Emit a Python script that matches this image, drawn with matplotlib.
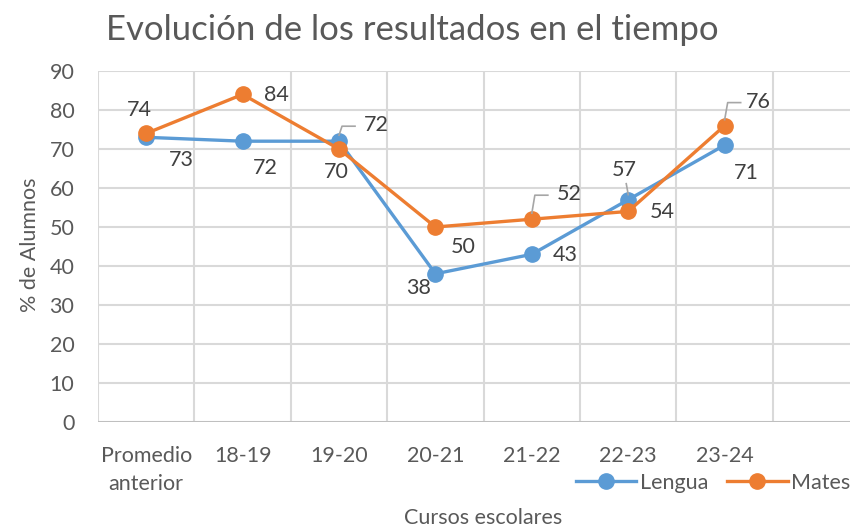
import matplotlib
matplotlib.use("Agg")
import matplotlib.pyplot as plt
from matplotlib.lines import Line2D
from matplotlib.transforms import Affine2D

plt.rcParams['font.family'] = ['Lato', 'DejaVu Sans']

categories = ["Promedio\nanterior", "18-19", "19-20", "20-21", "21-22", "22-23", "23-24"]
lengua = [73, 72, 72, 38, 43, 57, 71]
mates = [74, 84, 70, 50, 52, 54, 76]

title = "Evolución de los resultados en el tiempo"
xlabel = "Cursos escolares"
ylabel = "% de Alumnos"

c_len = "#5B9BD5"
c_mat = "#ED7D31"
grid_c = "#D9D9D9"
tick_c = "#595959"
lab_c = "#404040"

FS = 15.5

# label offsets in pixels (dx, dy with y down), and leader flag
len_off = [(35, 23, False), (23, 27, False), (37, -16, True), (-17, 14, False),
           (33, 1, False), (-4, -30, True), (22, 28, False)]
mat_off = [(-7, -23, False), (34, 1, False), (-3, 23, False), (28, 20, False),
           (37, -25, True), (34, 1, False), (34, -24, True)]

W, H = 850, 529
fig = plt.figure(figsize=(W / 100, H / 100), dpi=100)
ax = fig.add_axes([98 / W, 1 - 422 / H, (W - 98) / W, (422 - 71) / H])

x = list(range(len(categories)))
ax.set_xlim(-0.5, 7.3)
ax.set_ylim(0, 90)

for k in range(0, 9):
    ax.axvline(k - 0.5, color=grid_c, lw=1.5, zorder=0)
for v in range(10, 91, 10):
    ax.axhline(v, color=grid_c, lw=1.5, zorder=0)
ax.axhline(0, color="#BFBFBF", lw=1.5, zorder=1)

for s in ax.spines.values():
    s.set_visible(False)

ax.set_yticks(range(0, 91, 10))
ax.set_xticks(x)
ax.set_xticklabels(categories, linespacing=1.55)
ax.tick_params(axis='both', length=0, labelsize=FS, colors=tick_c)
ax.tick_params(axis='y', pad=17)
ax.tick_params(axis='x', pad=17)
for t in ax.get_xticklabels():
    t.set_verticalalignment('top')

ax.plot(x, lengua, color=c_len, lw=2.4, marker='o', ms=11, label="Lengua", zorder=3)
ax.plot(x, mates, color=c_mat, lw=2.4, marker='o', ms=11, label="Mates", zorder=4)

fig.canvas.draw()

def add_labels(vals, offs):
    for xi, v, (dx, dy, lead) in zip(x, vals, offs):
        px, py = ax.transData.transform((xi, v))
        fig.text(px / W + dx / W, py / H - dy / H, str(v), ha='center', va='center',
                 fontsize=FS, color=lab_c)
        if lead:
            if abs(dx) < 10:
                xs = [0, dx * 0.5]
                ys = [5, -dy - 14]
            else:
                xs = [0, 3, 16]
                ys = [6, -dy - 1, -dy - 1]
            ln = Line2D(xs, ys, color="#A6A6A6", lw=1.2,
                        transform=Affine2D().translate(px, py), zorder=5)
            fig.add_artist(ln)

add_labels(lengua, len_off)
add_labels(mates, mat_off)

fig.text(412 / W, 1 - 30 / H, title, ha='center', va='center', fontsize=25,
         color=tick_c)
fig.text(483 / W, 1 - 518 / H, xlabel, ha='center', va='center', fontsize=FS, color=tick_c)
fig.text(30 / W, 1 - 245 / H, ylabel, ha='center', va='center', fontsize=FS,
         color=tick_c, rotation=90)

leg = fig.legend(loc='center', bbox_to_anchor=(713 / W, 1 - 483 / H), ncol=2,
                 frameon=False, fontsize=FS, handlelength=2.8, columnspacing=0.9,
                 handletextpad=0.15, borderaxespad=0)
for t in leg.get_texts():
    t.set_color(tick_c)

fig.savefig("out.png", dpi=100)
